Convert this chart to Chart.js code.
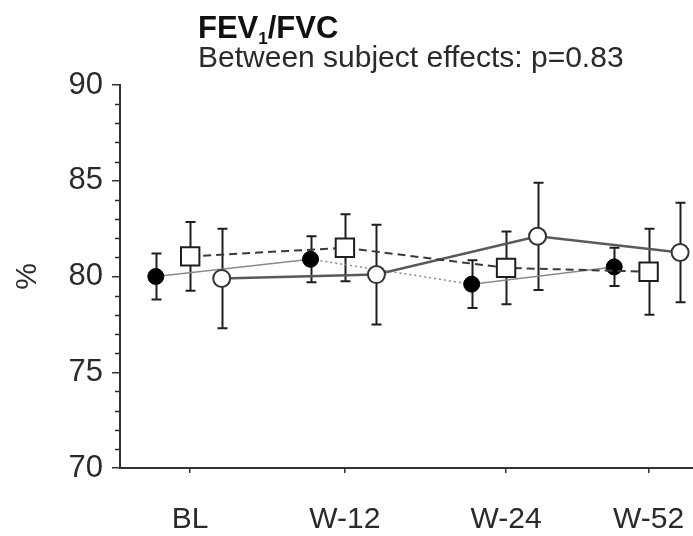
<!DOCTYPE html>
<html>
<head>
<meta charset="utf-8">
<script src="https://cdn.jsdelivr.net/npm/chart.js@4.4.1/dist/chart.umd.min.js"></script>
<style>
    body { margin: 0; background: #fff; }
    #chart { display: block; }
</style>
</head>
<body>
<canvas id="chart" width="693" height="536"></canvas>
<script>
(function () {
    "use strict";

    // Data
    var categories = ["BL", "W-12", "W-24", "W-52"];
    var timePoints = [0.49, 1.57, 2.695, 3.69];
    var yTicks = [70, 75, 80, 85, 90];

    var filledMean = [80.0, 80.9, 79.6, 80.5];
    var filledErr = [1.2, 1.2, 1.25, 1.0];
    var squareMean = [81.05, 81.5, 80.45, 80.25];
    var squareErr = [1.8, 1.75, 1.9, 2.25];
    var openMean = [79.9, 80.1, 82.1, 81.25];
    var openErr = [2.6, 2.6, 2.8, 2.6];

    var FONT = 'Arial, "Liberation Sans", sans-serif';
    var INK = "#2a2a2a";
    var X_MAX = 4;

    function points(mean, shift) {
        return mean.map(function (v, i) {
            return { x: timePoints[i] + shift, y: v };
        });
    }

    // error bars, drawn under the markers
    var errorBars = {
        id: "errorBars",
        beforeDatasetsDraw: function (chart) {
            var ctx = chart.ctx, xs = chart.scales.x, ys = chart.scales.y;
            ctx.save();
            ctx.strokeStyle = "#1e1e1e";
            ctx.lineWidth = 2;
            chart.data.datasets.forEach(function (ds) {
                ds.data.forEach(function (p, j) {
                    var px = Math.round(xs.getPixelForValue(p.x)) + 0.5;
                    var top = ys.getPixelForValue(p.y + ds.errors[j]);
                    var bot = ys.getPixelForValue(p.y - ds.errors[j]);
                    ctx.beginPath();
                    ctx.moveTo(px, top);
                    ctx.lineTo(px, bot);
                    ctx.moveTo(px - 5, top);
                    ctx.lineTo(px + 5, top);
                    ctx.moveTo(px - 5, bot);
                    ctx.lineTo(px + 5, bot);
                    ctx.stroke();
                });
            });
            ctx.restore();
        }
    };

    // minor ticks on the y axis, x axis run-out + the titles
    var decorations = {
        id: "decorations",
        afterDraw: function (chart) {
            var ctx = chart.ctx, ys = chart.scales.y, xs = chart.scales.x;
            var left = chart.chartArea.left;
            ctx.save();
            ctx.strokeStyle = INK;
            ctx.lineWidth = 1.5;
            for (var v = ys.min + 1; v < ys.max; v++) {
                if (v % 5 === 0) continue;
                var py = Math.round(ys.getPixelForValue(v)) + 0.5;
                ctx.beginPath();
                ctx.moveTo(left - 5, py);
                ctx.lineTo(left, py);
                ctx.stroke();
            }

            ctx.strokeStyle = "#333";
            ctx.lineWidth = 2;
            var ay = Math.round(xs.top);
            ctx.beginPath();
            ctx.moveTo(chart.chartArea.right - 1, ay);
            ctx.lineTo(chart.width, ay);
            ctx.stroke();

            ctx.fillStyle = "#111";
            ctx.textBaseline = "alphabetic";
            ctx.textAlign = "left";
            var x = 198;
            ctx.font = "bold 31px " + FONT;
            ctx.fillText("FEV", x, 38);
            x += ctx.measureText("FEV").width;
            ctx.font = "bold 17px " + FONT;
            ctx.fillText("1", x, 44);
            x += ctx.measureText("1").width;
            ctx.font = "bold 31px " + FONT;
            ctx.fillText("/FVC", x, 38);

            ctx.fillStyle = INK;
            ctx.font = "30px " + FONT;
            ctx.fillText("Between subject effects: p=0.83", 198, 67);
            ctx.restore();
        }
    };

    var ctx1 = document.getElementById("chart").getContext("2d");
    var myChart = new Chart(ctx1, {
        type: "line",
        data: {
            datasets: [{
                    label: "square",
                    data: points(squareMean, 0),
                    errors: squareErr,
                    clip: false,
                    borderColor: "#3a3a3a",
                    borderWidth: 2,
                    borderDash: [8, 5],
                    pointStyle: "rect",
                    pointRadius: 13,
                    pointBackgroundColor: "#fff",
                    pointBorderColor: "#1e1e1e",
                    pointBorderWidth: 2
                },
                {
                    label: "open",
                    data: points(openMean, 0.22),
                    errors: openErr,
                    clip: false,
                    borderColor: "#5a5a5a",
                    borderWidth: 2.5,
                    pointStyle: "circle",
                    pointRadius: 8.5,
                    pointBackgroundColor: "#fff",
                    pointBorderColor: "#333",
                    pointBorderWidth: 2
                },
                {
                    label: "filled",
                    data: points(filledMean, -0.24),
                    errors: filledErr,
                    clip: false,
                    borderColor: "#8a8a8a",
                    borderWidth: 1.5,
                    segment: {
                        borderDash: function (c) { return c.p0DataIndex === 1 ? [2, 3] : undefined; }
                    },
                    pointStyle: "circle",
                    pointRadius: 8,
                    pointBackgroundColor: "#000",
                    pointBorderColor: "#000",
                    pointBorderWidth: 1
                }
            ]
        },
        options: {
            responsive: false,
            animation: false,
            devicePixelRatio: 1,
            layout: { padding: { top: 85, right: 0, left: 0, bottom: 0 } },
            plugins: {
                legend: { display: false },
                tooltip: { enabled: false }
            },
            scales: {
                x: {
                    type: "linear",
                    min: 0,
                    max: X_MAX,
                    afterBuildTicks: function (axis) {
                        axis.ticks = timePoints.map(function (v) { return { value: v }; });
                    },
                    afterFit: function (scale) {
                        scale.height = 68;
                        scale.paddingLeft = 0;
                        scale.paddingRight = 0;
                    },
                    border: { color: "#333", width: 2 },
                    grid: { drawOnChartArea: false, tickLength: 5, color: "#333", lineWidth: 1.5 },
                    ticks: {
                        autoSkip: false,
                        maxRotation: 0,
                        padding: 29,
                        color: INK,
                        font: { family: FONT, size: 30 },
                        callback: function (v, i) { return categories[i]; }
                    }
                },
                y: {
                    min: yTicks[0],
                    max: yTicks[yTicks.length - 1],
                    afterFit: function (scale) { scale.width = 120; },
                    border: { color: "#333", width: 2 },
                    grid: {
                        drawOnChartArea: false,
                        tickLength: 8,
                        lineWidth: 1.5,
                        color: function (c) {
                            return yTicks.indexOf(c.tick.value) >= 0 ? "#333" : "rgba(0,0,0,0)";
                        }
                    },
                    ticks: {
                        stepSize: 1,
                        autoSkip: false,
                        padding: 9,
                        color: INK,
                        font: { family: FONT, size: 31 },
                        callback: function (v) { return yTicks.indexOf(v) >= 0 ? v : ""; }
                    },
                    title: {
                        display: true,
                        text: "%",
                        color: INK,
                        padding: { top: 10, bottom: 0 },
                        font: { family: FONT, size: 30 }
                    }
                }
            }
        },
        plugins: [errorBars, decorations]
    });

    // push the plot area out to the right edge of the canvas
    for (var k = 0; k < 3; k++) {
        var gap = myChart.width - myChart.chartArea.right;
        if (Math.abs(gap) < 0.5) break;
        myChart.options.layout.padding.right -= gap;
        myChart.update();
    }
    // if the layout still falls short, keep the x units at the same pixel pitch
    var area = myChart.chartArea;
    var pitch = (myChart.width - area.left) / X_MAX;
    if (myChart.width - area.right > 0.5) {
        myChart.options.scales.x.max = (area.right - area.left) / pitch;
        myChart.update();
    }
})();
</script>
</body>
</html>
